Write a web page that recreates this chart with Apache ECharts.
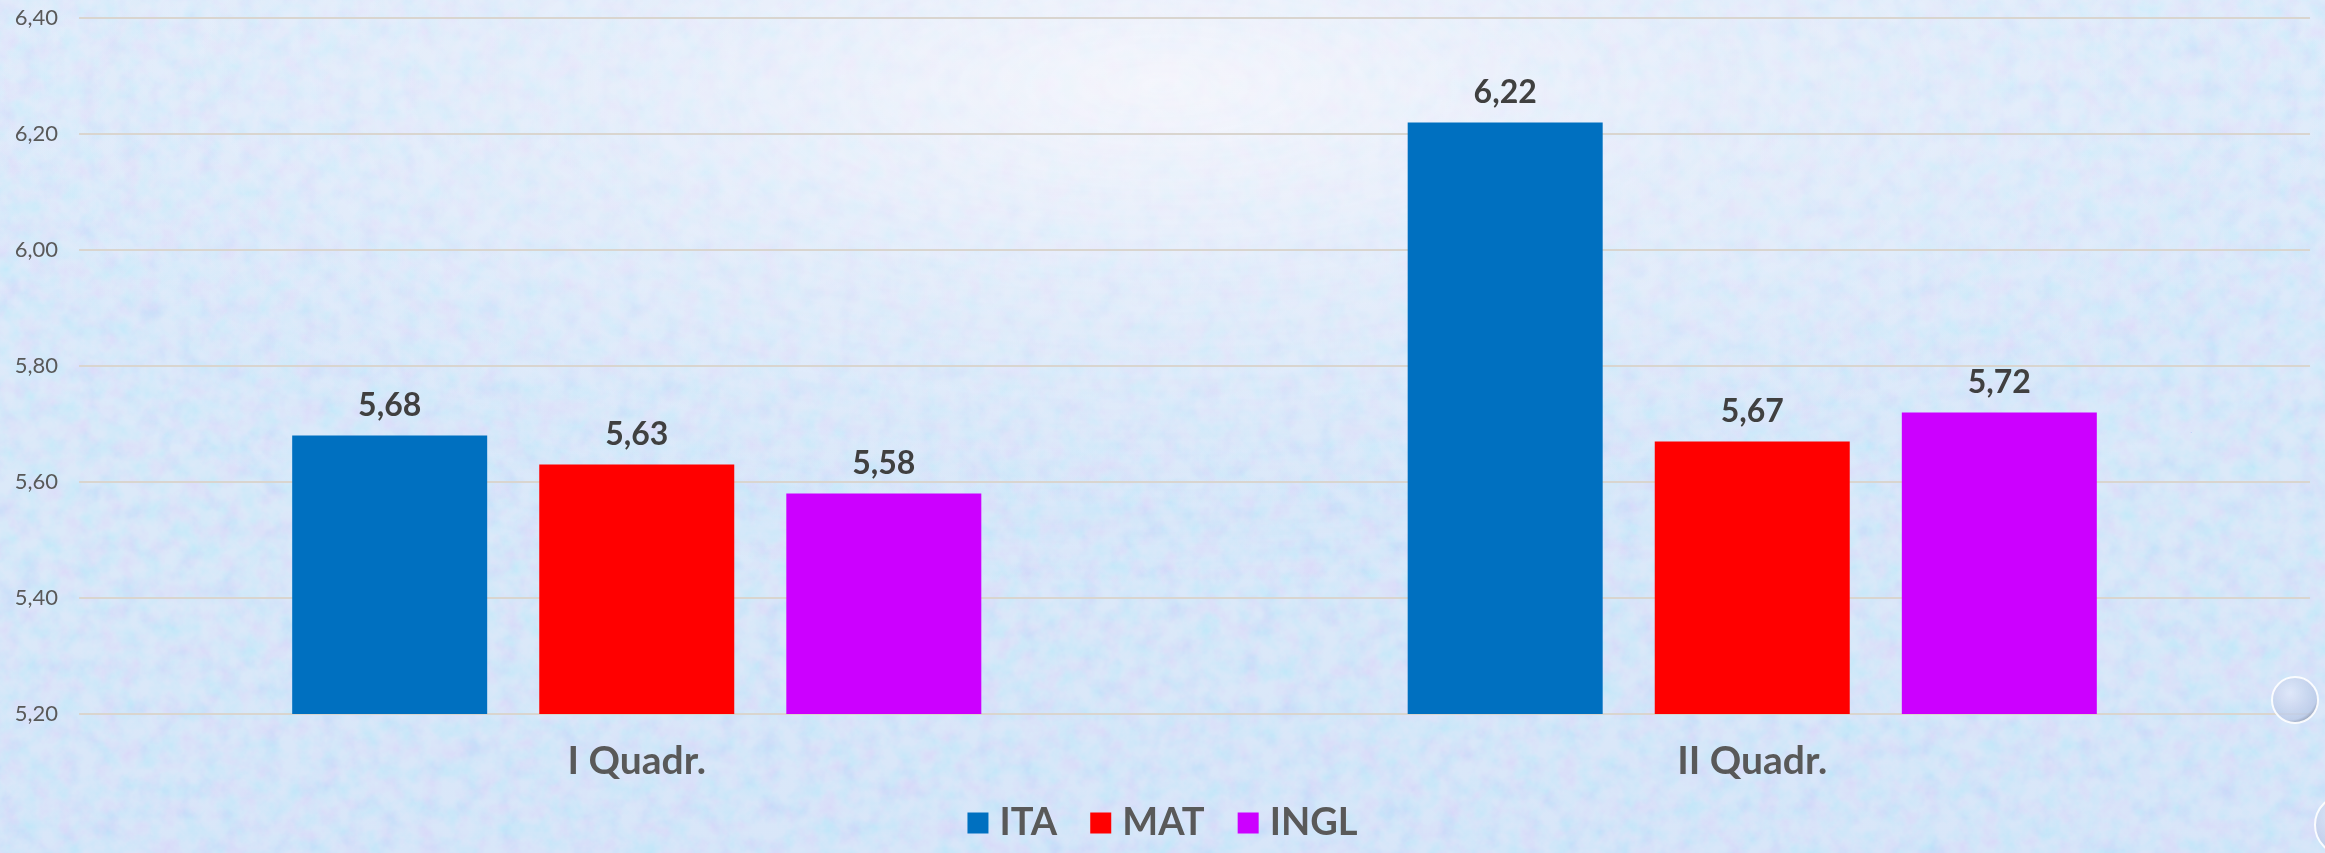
<!DOCTYPE html>
<html>
<head>
<meta charset="utf-8">
<script src="https://cdn.jsdelivr.net/npm/echarts@6/dist/echarts.min.js"></script>
<style>
html,body{margin:0;padding:0;}
body{
  width:2325px;height:853px;overflow:hidden;
  background:
    radial-gradient(ellipse 55% 50% at 50% 10%, rgba(246,246,252,0.95) 0%, rgba(236,240,251,0.6) 45%, rgba(236,240,251,0) 100%),
    linear-gradient(180deg, #d4e4f9 0%, #cde0f8 50%, #c8dcf7 100%);
}
#noise{position:absolute;left:0;top:0;width:2325px;height:853px;opacity:0.55;}
#chart{position:absolute;left:0;top:0;width:2325px;height:853px;}
</style>
</head>
<body>
<svg id="noise" width="2325" height="853">
  <defs>
  <radialGradient id="fade" cx="50%" cy="10%" r="60%">
    <stop offset="0%" stop-color="white" stop-opacity="0.25"/>
    <stop offset="100%" stop-color="white" stop-opacity="1"/>
  </radialGradient>
  <mask id="m"><rect width="100%" height="100%" fill="url(#fade)"/></mask>
  <filter id="f"><feTurbulence type="fractalNoise" baseFrequency="0.05" numOctaves="4" seed="7"/>
  <feColorMatrix type="matrix" values="1.0 0 0 0 0.35  0 0.7 0 0 0.58  0 0 0 0 0.98  0 0 0 0 0.55"/></filter>
  </defs>
  <rect width="100%" height="100%" filter="url(#f)" mask="url(#m)"/>
</svg>
<div id="chart"></div>
<script>
const categories = ['I Quadr.', 'II Quadr.'];
const seriesNames = ['ITA', 'MAT', 'INGL'];
const itaValues = [5.68, 6.22];
const matValues = [5.63, 5.67];
const inglValues = [5.58, 5.72];
const yTicks = [5.20, 5.40, 5.60, 5.80, 6.00, 6.20, 6.40];
const colors = ['#0070C0', '#FF0000', '#CC00FF'];

const fmt = v => Number(v).toFixed(2).replace('.', ',');
const FONT = 'Lato, "Open Sans", sans-serif';

const chart = echarts.init(document.getElementById('chart'), null, {renderer: 'canvas'});
const labelCfg = {
  show: true, position: 'top', distance: 14,
  formatter: p => fmt(p.value),
  fontFamily: FONT, fontWeight: 'bold', fontSize: 32, color: '#404040'
};
const valuesList = [itaValues, matValues, inglValues];
const dropFill = () => new echarts.graphic.RadialGradient(0.4, 0.35, 0.7, [
  {offset: 0, color: 'rgba(225,232,250,0.85)'},
  {offset: 0.8, color: 'rgba(185,200,230,0.8)'},
  {offset: 1, color: 'rgba(110,120,140,0.9)'}]);
chart.setOption({
  backgroundColor: 'transparent',
  animation: false,
  color: colors,
  grid: {left: 79, right: 15, top: 18, bottom: 139, containLabel: false},
  legend: {
    data: seriesNames,
    bottom: 6,
    left: 'center',
    itemWidth: 21, itemHeight: 21, itemGap: 33,
    icon: 'rect',
    textStyle: {fontFamily: FONT, fontWeight: 'bold', fontSize: 38, color: '#595959', padding: [0,0,0,6]}
  },
  xAxis: {
    type: 'category',
    data: categories,
    axisLine: {show: false},
    axisTick: {show: false},
    axisLabel: {fontFamily: FONT, fontWeight: 'bold', fontSize: 39, color: '#595959', margin: 28}
  },
  yAxis: {
    type: 'value',
    min: yTicks[0], max: yTicks[yTicks.length - 1], interval: 0.2,
    axisLine: {show: false},
    axisTick: {show: false},
    splitLine: {lineStyle: {color: '#d9d5cf', width: 2}},
    axisLabel: {formatter: v => fmt(v), fontFamily: FONT, fontSize: 22, color: '#595959', margin: 21}
  },
  series: seriesNames.map((n, i) => ({
    name: n, type: 'bar', data: valuesList[i],
    barWidth: 195, barGap: '26.7%',
    itemStyle: {color: colors[i]},
    label: labelCfg
  })),
  graphic: [
    {type: 'circle', shape: {cx: 2295, cy: 700, r: 23}, z: 10,
     style: {fill: dropFill(), stroke: 'rgba(255,255,255,0.9)', lineWidth: 2}},
    {type: 'circle', shape: {cx: 2345, cy: 825, r: 30}, z: 10,
     style: {fill: dropFill(), stroke: 'rgba(255,255,255,0.9)', lineWidth: 2}}
  ]
});
</script>
</body>
</html>
